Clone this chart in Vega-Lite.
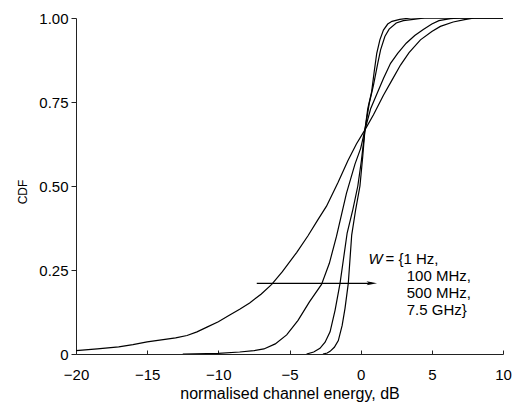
{
  "$schema": "https://vega.github.io/schema/vega-lite/v6.json",
  "width": 427,
  "height": 336,
  "autosize": "none",
  "padding": {"left": 76, "top": 18, "right": 12, "bottom": 53},
  "background": "white",
  "config": {
    "view": {"stroke": null},
    "font": "Liberation Sans",
    "axis": {"grid": false, "domainColor": "#222", "tickColor": "#222", "labelColor": "black", "titleColor": "black", "labelFont": "Liberation Sans", "titleFont": "Liberation Sans", "titleFontWeight": "normal"}
  },
  "datasets": {
    "curves": [
      {"w": "1 Hz", "x": -20, "y": 0.010},
      {"w": "1 Hz", "x": -18.5, "y": 0.015},
      {"w": "1 Hz", "x": -17, "y": 0.021},
      {"w": "1 Hz", "x": -16, "y": 0.028},
      {"w": "1 Hz", "x": -15, "y": 0.036},
      {"w": "1 Hz", "x": -14, "y": 0.042},
      {"w": "1 Hz", "x": -13, "y": 0.048},
      {"w": "1 Hz", "x": -12.2, "y": 0.055},
      {"w": "1 Hz", "x": -11.5, "y": 0.066},
      {"w": "1 Hz", "x": -10.8, "y": 0.080},
      {"w": "1 Hz", "x": -10, "y": 0.096},
      {"w": "1 Hz", "x": -9.2, "y": 0.116},
      {"w": "1 Hz", "x": -8.5, "y": 0.133},
      {"w": "1 Hz", "x": -7.8, "y": 0.152},
      {"w": "1 Hz", "x": -7.0, "y": 0.178},
      {"w": "1 Hz", "x": -6.25, "y": 0.207},
      {"w": "1 Hz", "x": -5.5, "y": 0.245},
      {"w": "1 Hz", "x": -4.5, "y": 0.302},
      {"w": "1 Hz", "x": -3.7, "y": 0.352},
      {"w": "1 Hz", "x": -3.0, "y": 0.400},
      {"w": "1 Hz", "x": -2.4, "y": 0.440},
      {"w": "1 Hz", "x": -1.6, "y": 0.510},
      {"w": "1 Hz", "x": -0.9, "y": 0.575},
      {"w": "1 Hz", "x": -0.3, "y": 0.625},
      {"w": "1 Hz", "x": 0.3, "y": 0.667},
      {"w": "1 Hz", "x": 0.9, "y": 0.712},
      {"w": "1 Hz", "x": 1.6, "y": 0.770},
      {"w": "1 Hz", "x": 2.2, "y": 0.815},
      {"w": "1 Hz", "x": 2.8, "y": 0.860},
      {"w": "1 Hz", "x": 3.4, "y": 0.897},
      {"w": "1 Hz", "x": 4.2, "y": 0.935},
      {"w": "1 Hz", "x": 5.0, "y": 0.960},
      {"w": "1 Hz", "x": 5.6, "y": 0.975},
      {"w": "1 Hz", "x": 6.5, "y": 0.988},
      {"w": "1 Hz", "x": 7.3, "y": 0.995},
      {"w": "1 Hz", "x": 8.0, "y": 1.0},
      {"w": "1 Hz", "x": 10, "y": 1.0},

      {"w": "100 MHz", "x": -12.5, "y": 0.0},
      {"w": "100 MHz", "x": -10, "y": 0.002},
      {"w": "100 MHz", "x": -8.5, "y": 0.006},
      {"w": "100 MHz", "x": -7.5, "y": 0.010},
      {"w": "100 MHz", "x": -6.8, "y": 0.015},
      {"w": "100 MHz", "x": -6.0, "y": 0.030},
      {"w": "100 MHz", "x": -5.2, "y": 0.057},
      {"w": "100 MHz", "x": -4.4, "y": 0.100},
      {"w": "100 MHz", "x": -3.6, "y": 0.155},
      {"w": "100 MHz", "x": -2.75, "y": 0.207},
      {"w": "100 MHz", "x": -2.2, "y": 0.270},
      {"w": "100 MHz", "x": -1.7, "y": 0.350},
      {"w": "100 MHz", "x": -1.0, "y": 0.478},
      {"w": "100 MHz", "x": -0.4, "y": 0.565},
      {"w": "100 MHz", "x": 0.0, "y": 0.612},
      {"w": "100 MHz", "x": 0.3, "y": 0.667},
      {"w": "100 MHz", "x": 0.7, "y": 0.730},
      {"w": "100 MHz", "x": 1.1, "y": 0.770},
      {"w": "100 MHz", "x": 1.6, "y": 0.820},
      {"w": "100 MHz", "x": 2.1, "y": 0.865},
      {"w": "100 MHz", "x": 2.6, "y": 0.895},
      {"w": "100 MHz", "x": 3.2, "y": 0.925},
      {"w": "100 MHz", "x": 3.8, "y": 0.948},
      {"w": "100 MHz", "x": 4.4, "y": 0.966},
      {"w": "100 MHz", "x": 5.0, "y": 0.982},
      {"w": "100 MHz", "x": 5.5, "y": 0.992},
      {"w": "100 MHz", "x": 6.3, "y": 0.998},
      {"w": "100 MHz", "x": 7.0, "y": 1.0},
      {"w": "100 MHz", "x": 10, "y": 1.0},

      {"w": "500 MHz", "x": -3.8, "y": 0.0},
      {"w": "500 MHz", "x": -3.3, "y": 0.006},
      {"w": "500 MHz", "x": -2.86, "y": 0.017},
      {"w": "500 MHz", "x": -2.5, "y": 0.035},
      {"w": "500 MHz", "x": -2.15, "y": 0.066},
      {"w": "500 MHz", "x": -1.8, "y": 0.130},
      {"w": "500 MHz", "x": -1.45, "y": 0.210},
      {"w": "500 MHz", "x": -1.2, "y": 0.285},
      {"w": "500 MHz", "x": -0.95, "y": 0.360},
      {"w": "500 MHz", "x": -0.55, "y": 0.430},
      {"w": "500 MHz", "x": -0.2, "y": 0.500},
      {"w": "500 MHz", "x": 0.05, "y": 0.575},
      {"w": "500 MHz", "x": 0.3, "y": 0.667},
      {"w": "500 MHz", "x": 0.6, "y": 0.745},
      {"w": "500 MHz", "x": 0.9, "y": 0.800},
      {"w": "500 MHz", "x": 1.2, "y": 0.865},
      {"w": "500 MHz", "x": 1.4, "y": 0.905},
      {"w": "500 MHz", "x": 1.7, "y": 0.945},
      {"w": "500 MHz", "x": 2.0, "y": 0.967},
      {"w": "500 MHz", "x": 2.5, "y": 0.985},
      {"w": "500 MHz", "x": 3.0, "y": 0.992},
      {"w": "500 MHz", "x": 3.7, "y": 0.996},
      {"w": "500 MHz", "x": 4.5, "y": 1.0},
      {"w": "500 MHz", "x": 10, "y": 1.0},

      {"w": "7.5 GHz", "x": -2.65, "y": 0.0},
      {"w": "7.5 GHz", "x": -2.35, "y": 0.003},
      {"w": "7.5 GHz", "x": -2.15, "y": 0.008},
      {"w": "7.5 GHz", "x": -1.85, "y": 0.020},
      {"w": "7.5 GHz", "x": -1.57, "y": 0.040},
      {"w": "7.5 GHz", "x": -1.3, "y": 0.085},
      {"w": "7.5 GHz", "x": -1.1, "y": 0.136},
      {"w": "7.5 GHz", "x": -0.87, "y": 0.210},
      {"w": "7.5 GHz", "x": -0.63, "y": 0.354},
      {"w": "7.5 GHz", "x": -0.35, "y": 0.430},
      {"w": "7.5 GHz", "x": -0.05, "y": 0.500},
      {"w": "7.5 GHz", "x": 0.15, "y": 0.590},
      {"w": "7.5 GHz", "x": 0.3, "y": 0.667},
      {"w": "7.5 GHz", "x": 0.5, "y": 0.730},
      {"w": "7.5 GHz", "x": 0.77, "y": 0.780},
      {"w": "7.5 GHz", "x": 0.95, "y": 0.840},
      {"w": "7.5 GHz", "x": 1.13, "y": 0.895},
      {"w": "7.5 GHz", "x": 1.35, "y": 0.935},
      {"w": "7.5 GHz", "x": 1.6, "y": 0.964},
      {"w": "7.5 GHz", "x": 1.9, "y": 0.982},
      {"w": "7.5 GHz", "x": 2.2, "y": 0.990},
      {"w": "7.5 GHz", "x": 2.75, "y": 0.996},
      {"w": "7.5 GHz", "x": 3.5, "y": 1.0},
      {"w": "7.5 GHz", "x": 10, "y": 1.0}
    ],
    "arrow": [{"x": -7.3, "x2": 0.8, "y": 0.2104}],
    "head": [{"x": 0.78, "y": 0.2104}],
    "wlabel": [{"x": 0.55, "y": 0.2693, "t": "W"}],
    "lines": [
      {"x": 1.75, "y": 0.2693, "t": "= {1 Hz,"},
      {"x": 3.235, "y": 0.2158, "t": "100 MHz,"},
      {"x": 3.235, "y": 0.1652, "t": "500 MHz,"},
      {"x": 3.235, "y": 0.1161, "t": "7.5 GHz}"}
    ]
  },
  "layer": [
    {
      "data": {"name": "curves"},
      "mark": {"type": "line", "color": "black", "strokeWidth": 1.2, "clip": true},
      "encoding": {
        "x": {
          "field": "x", "type": "quantitative",
          "scale": {"domain": [-20, 10], "nice": false, "zero": false},
          "axis": {
            "title": "normalised channel energy, dB",
            "values": [-20, -15, -10, -5, 0, 5, 10],
            "tickSize": -4,
            "labelPadding": 17,
            "labelFontSize": 15,
            "titleFontSize": 16,
            "titleY": 44,
            "titleBaseline": "alphabetic",
            "labelFlush": false
          }
        },
        "y": {
          "field": "y", "type": "quantitative",
          "scale": {"domain": [0, 1], "nice": false},
          "axis": {
            "title": "CDF",
            "values": [0, 0.25, 0.5, 0.75, 1],
            "labelExpr": "datum.value == 0 ? '0' : format(datum.value, '.2f')",
            "tickSize": 5,
            "labelPadding": 3,
            "labelFontSize": 15,
            "titleFontSize": 12,
            "titleAngle": -90,
            "titleX": -54,
            "titleY": 173.5,
            "titleAlign": "center",
            "titleBaseline": "middle",
            "labelFlush": false
          }
        },
        "detail": {"field": "w"}
      }
    },
    {
      "data": {"name": "arrow"},
      "mark": {"type": "rule", "color": "black", "strokeWidth": 1.3},
      "encoding": {
        "x": {"field": "x", "type": "quantitative"},
        "x2": {"field": "x2"},
        "y": {"field": "y", "type": "quantitative"}
      }
    },
    {
      "data": {"name": "head"},
      "mark": {"type": "point", "shape": "M-1,-0.38L1,0L-1,0.38L-0.55,0Z", "filled": true, "color": "black", "opacity": 1, "size": 110},
      "encoding": {
        "x": {"field": "x", "type": "quantitative"},
        "y": {"field": "y", "type": "quantitative"}
      }
    },
    {
      "data": {"name": "wlabel"},
      "mark": {"type": "text", "align": "left", "baseline": "alphabetic", "fontSize": 15, "fontStyle": "italic", "font": "Liberation Sans", "color": "black"},
      "encoding": {
        "x": {"field": "x", "type": "quantitative"},
        "y": {"field": "y", "type": "quantitative"},
        "text": {"field": "t"}
      }
    },
    {
      "data": {"name": "lines"},
      "mark": {"type": "text", "align": "left", "baseline": "alphabetic", "fontSize": 15, "font": "Liberation Sans", "color": "black"},
      "encoding": {
        "x": {"field": "x", "type": "quantitative"},
        "y": {"field": "y", "type": "quantitative"},
        "text": {"field": "t"}
      }
    }
  ]
}
